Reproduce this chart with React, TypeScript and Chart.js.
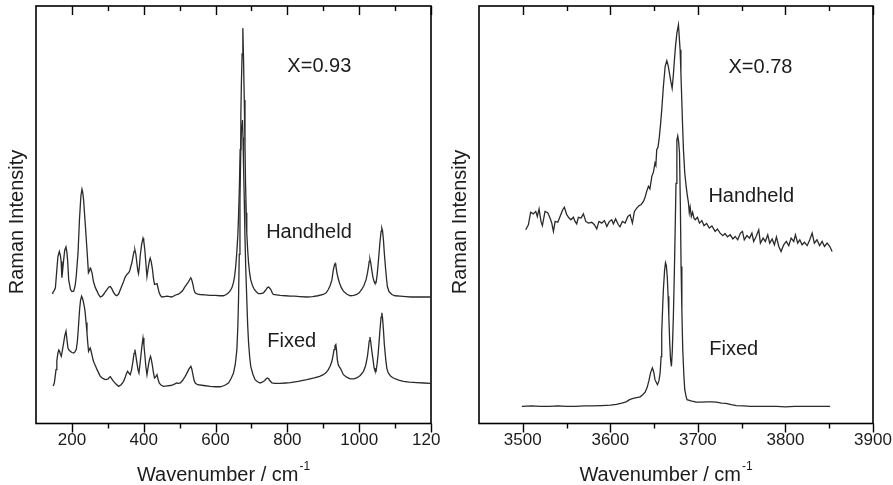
import React, { useEffect, useRef } from "react";
import { Chart, registerables } from "chart.js";

Chart.register(...registerables);

type Pair = [number, number];

// ---------- Left panel (X = 0.93), low wavenumber region ----------
const leftHandheld: Pair[] = [
  [145, 31.2], [147, 31.4], [151, 31.9], [154, 32.5], [158, 36.8], [161, 40.0], [165, 41.2], [168, 40.2],
  [170, 38.8], [172, 34.9], [174, 36.5], [177, 39.2], [180, 41.5], [183.5, 42.3], [186, 41.0], [188, 39.2],
  [191, 34.4], [196, 32.1], [200, 31.6], [205, 31.7], [209, 33.0], [212, 35.2], [217, 40.8], [221, 48.8],
  [225, 54.5], [228, 56.1], [230, 55.4], [232.5, 53.6], [237, 48.0], [242, 41.6], [246, 36.1], [249, 36.6],
  [251, 37.2], [253, 36.9], [256, 36.1], [260, 34.0], [265, 32.6], [270, 31.7], [275, 30.8], [279, 30.3],
  [284, 30.5], [288, 30.9], [293, 31.5], [298, 32.1], [303, 32.7], [307, 32.8], [311, 32.3], [316, 31.4],
  [321, 30.8], [325, 30.6], [330, 31.0], [335, 32.1], [340, 33.2], [344, 34.0], [348, 35.0], [351, 35.4],
  [355, 35.9], [358, 36.1], [361, 36.6], [364, 37.6], [367, 38.5], [370, 39.9], [373, 41.2], [375.5, 41.6],
  [378, 40.6], [381, 38.4], [383.5, 36.6], [385.5, 35.9], [388, 37.6], [390, 40.0], [394, 42.8], [398, 44.4],
  [400, 43.8], [403, 41.6], [406, 38.4], [409, 35.2], [411, 36.4], [413, 37.6], [416, 39.0], [418, 39.6],
  [421, 38.7], [424.5, 36.8], [427, 34.8], [430, 33.3], [433, 33.4], [437, 33.5], [440, 32.4], [443, 31.3],
  [447, 30.6], [451, 30.3], [458, 30.4], [465, 30.5], [472, 30.4], [478, 30.3], [485, 30.6], [492, 30.9],
  [497, 31.0], [502, 31.3], [508, 31.8], [515, 32.8], [520, 33.4], [525, 34.0], [528, 34.5], [531, 34.9],
  [534, 34.3], [537, 33.3], [540, 32.0], [543, 31.3], [550, 31.0], [557, 30.9], [570, 30.8], [585, 30.7],
  [600, 30.7], [612, 30.6], [622, 30.6], [630, 30.9], [636, 31.3], [641, 31.8], [645.5, 32.5], [650, 33.8],
  [653, 35.2], [656, 37.5], [659, 40.8], [662, 45.0], [664, 49.6], [666.5, 57.0], [668.5, 65.6], [670.5, 74.0],
  [672, 81.5], [674, 88.5], [676, 94.7], [678, 87.0], [680, 77.5], [682, 66.5], [683.5, 57.6], [685.5, 50.5],
  [687, 45.6], [689.5, 41.5], [692, 38.4], [695, 36.0], [698, 34.4], [703, 33.0], [708, 32.1], [714, 31.5],
  [719.5, 31.1], [726, 31.1], [733.5, 31.3], [738, 31.8], [741, 32.1], [744, 32.5], [747, 32.7], [750, 32.5],
  [754, 32.1], [758, 31.3], [761, 30.9], [770, 30.8], [780, 30.7], [795, 30.6], [808, 30.5], [820, 30.5],
  [835, 30.4], [854, 30.3], [870, 30.4], [885, 30.6], [900, 30.9], [908, 31.3], [914, 32.1], [919, 33.0],
  [924, 34.4], [928, 36.8], [931, 37.9], [933, 38.3], [935, 37.8], [938, 36.1], [941, 34.9], [945, 33.7],
  [950, 32.6], [956, 31.7], [965, 31.0], [975, 30.6], [985, 30.7], [993, 30.9], [1000, 31.3], [1007, 32.1],
  [1013, 33.0], [1019, 34.4], [1023, 36.0], [1026, 37.6], [1028, 38.8], [1030, 39.4], [1032, 38.6], [1035, 36.8],
  [1038, 35.2], [1041.5, 34.0], [1044, 33.6], [1047, 33.7], [1050, 35.6], [1053, 38.4], [1056, 41.5], [1058, 43.6],
  [1061, 46.0], [1063, 46.8], [1065, 46.2], [1067.5, 44.0], [1070, 40.8], [1073, 37.6], [1076, 34.8], [1078.5, 32.8],
  [1083, 31.6], [1091, 30.9], [1100, 30.6], [1114, 30.5], [1130, 30.4], [1145, 30.3], [1160, 30.3], [1180, 30.3],
  [1198, 30.3],
];

const leftFixed: Pair[] = [
  [148, 9.0], [151, 9.7], [153, 11.0], [155.7, 12.9], [158, 15.0], [161, 16.9], [163.5, 17.6], [165.7, 17.3],
  [168, 16.6], [170.4, 16.1], [173, 17.3], [177, 19.3], [180, 21.0], [183.5, 22.1], [186, 20.2], [189, 18.1],
  [192, 17.6], [195.5, 17.3], [200, 17.0], [204.6, 16.9], [208, 17.1], [212, 17.7], [215, 19.5], [217.7, 22.5],
  [221.4, 27.3], [224, 29.5], [227, 30.5], [229.5, 30.0], [232.5, 28.9], [235, 27.8], [237, 26.5], [239.5, 24.2],
  [242, 21.7], [244, 19.4], [246.4, 17.3], [249, 17.8], [251, 18.1], [253.5, 17.3], [256.7, 16.1], [259, 15.2],
  [262, 14.5], [266, 13.7], [270, 12.9], [275, 12.0], [279, 11.3], [286, 10.8], [293, 10.5], [300, 10.6],
  [304, 11.0], [307, 11.2], [311, 10.7], [316, 10.1], [322, 9.5], [330, 8.9], [337, 9.3], [344, 10.1],
  [349, 11.2], [352, 12.0], [355, 12.5], [358.5, 12.1], [362.5, 11.7], [366, 12.8], [370, 14.9], [373, 16.8],
  [375.5, 17.7], [378, 16.3], [381, 14.5], [384, 12.9], [386.7, 12.1], [389, 13.8], [392, 16.1], [395, 18.6],
  [398, 20.5], [400.5, 18.8], [403.4, 16.1], [406, 13.6], [409, 11.7], [411, 12.8], [413.4, 14.1], [416, 15.3],
  [419, 16.1], [421.5, 15.2], [424.5, 13.7], [427, 12.2], [430, 10.9], [433, 11.1], [437, 11.7], [440, 10.6],
  [443, 9.7], [448, 9.2], [455, 8.9], [465, 9.0], [474, 9.1], [483, 9.3], [492, 9.7], [497, 9.6],
  [502, 9.7], [508, 10.3], [515.5, 11.3], [520, 12.0], [525, 12.9], [528, 13.3], [531.4, 13.7], [534, 13.0],
  [537, 11.7], [540, 10.4], [543.4, 9.7], [550, 9.3], [566.5, 9.1], [585, 8.9], [600, 8.8], [613, 8.8],
  [625, 9.1], [636, 9.7], [643, 10.7], [650, 12.1], [655, 14.2], [659.4, 17.7], [662, 23.0], [664, 29.7],
  [666, 40.5], [668, 53.6], [670.6, 67.2], [672.5, 71.0], [675, 72.7], [676.5, 68.5], [678, 61.6], [680, 53.5],
  [681.7, 45.6], [684, 37.5], [687, 29.7], [689.5, 23.5], [692, 19.3], [695, 16.0], [698, 13.7], [704, 11.8],
  [710, 10.5], [717, 10.0], [724, 9.7], [730, 9.9], [737, 10.3], [741, 10.7], [744.6, 10.9], [748, 10.7],
  [751, 10.3], [757, 9.7], [765, 9.6], [780, 9.6], [795, 9.7], [808, 9.8], [830, 10.1], [854, 10.5],
  [875, 10.9], [890, 11.3], [900, 11.7], [908, 12.2], [914, 12.9], [919, 13.7], [924, 14.9], [927, 16.2],
  [930, 17.7], [932.5, 18.6], [935, 18.9], [937, 17.5], [939, 15.3], [942, 14.0], [945, 13.5], [947, 13.3],
  [950, 12.8], [956, 11.7], [965, 11.1], [975, 10.7], [985, 10.7], [993, 10.9], [1003, 11.5], [1012, 12.5],
  [1018, 13.9], [1023, 16.1], [1026, 18.2], [1028, 19.8], [1030, 20.7], [1032, 19.7], [1034, 18.2], [1036, 16.9],
  [1039, 15.0], [1041.5, 13.3], [1044, 12.6], [1047, 12.5], [1050, 14.4], [1053, 16.9], [1055.5, 19.6], [1058, 22.5],
  [1061, 25.5], [1063, 26.5], [1065, 25.3], [1067.5, 22.5], [1070, 19.0], [1074, 15.3], [1077, 13.2], [1081, 12.1],
  [1088, 11.3], [1095, 10.9], [1110, 10.4], [1123, 10.1], [1140, 9.9], [1160, 9.8], [1180, 9.7], [1198, 9.6],
];

// ---------- Right panel (X = 0.78), OH stretching region ----------
const rightHandheld: Pair[] = [
  [3503.4, 46.4], [3506.4, 47.6], [3509, 50.6], [3512, 50.2], [3514.8, 50.8], [3516.6, 49.6], [3518.6, 51.4],
  [3520.8, 48.4], [3522.4, 47.4], [3525.4, 50.8], [3528.5, 50.5], [3531, 49.3], [3533, 48.1], [3535, 46.0],
  [3537, 48.4], [3540, 48.2], [3542.6, 49.6], [3545.6, 51.2], [3547.5, 51.8], [3550.2, 50.0], [3552.9, 49.2],
  [3555, 48.8], [3557.8, 49.4], [3559.7, 48.4], [3561.6, 47.8], [3563.5, 49.4], [3566.6, 49.2], [3569.2, 50.2],
  [3572, 48.4], [3575, 48.0], [3578.8, 48.2], [3581.8, 47.6], [3584.5, 46.6], [3587, 48.4], [3590.2, 48.0],
  [3593.2, 48.6], [3596, 47.2], [3598.6, 48.3], [3601.6, 48.8], [3603.5, 47.8], [3606, 49.0], [3609.2, 47.6],
  [3611, 47.1], [3613.8, 48.4], [3616.9, 48.0], [3620, 49.6], [3622.6, 50.0], [3625.2, 48.0], [3627.5, 50.8],
  [3630.2, 51.6], [3632.9, 52.2], [3635, 52.4], [3637.8, 53.2], [3639.7, 54.2], [3641.5, 55.6], [3643.5, 56.8],
  [3645.2, 56.2], [3647.4, 59.2], [3649.2, 60.2], [3651, 62.4], [3652, 61.8], [3653, 65.6], [3654.5, 66.2],
  [3656, 68.7], [3657.5, 72.0], [3658.7, 75.1], [3660.6, 80.7], [3662.6, 85.5], [3664.5, 86.9], [3666, 85.8],
  [3667.5, 83.9], [3669, 82.0], [3670.6, 80.3], [3672, 83.5], [3673.2, 87.1], [3674.5, 90.5], [3676, 93.5],
  [3677.8, 95.5], [3679.7, 89.5], [3680.6, 84.0], [3681.6, 77.5], [3682.5, 71.5], [3683.5, 65.6], [3685, 60.0],
  [3686.6, 56.8], [3688, 54.5], [3689.2, 52.9], [3690.2, 50.5], [3691.2, 51.8], [3692.5, 49.6], [3694, 50.6],
  [3695.5, 49.2], [3697, 48.8], [3699.5, 49.4], [3701.8, 48.0], [3704.5, 48.6], [3707, 47.4], [3710, 47.9],
  [3713, 46.8], [3716, 47.3], [3719.7, 46.0], [3722.3, 46.6], [3725.4, 45.6], [3728.5, 45.0], [3731, 45.5],
  [3733.8, 44.7], [3736.9, 45.2], [3740, 44.2], [3742.6, 44.8], [3745.5, 44.0], [3748.6, 45.6], [3750.9, 46.0],
  [3753, 44.0], [3756, 45.0], [3759, 44.4], [3761.7, 45.6], [3763.7, 43.6], [3766.5, 44.8], [3769.5, 46.4],
  [3771.4, 43.2], [3774.5, 44.4], [3777, 43.6], [3779.8, 45.2], [3782, 43.2], [3784.8, 44.2], [3787.4, 42.8],
  [3789.7, 44.7], [3792.4, 42.4], [3795, 41.2], [3798, 42.8], [3801, 43.6], [3803.8, 42.6], [3806.5, 44.4],
  [3809.5, 43.6], [3811.4, 45.2], [3814, 43.2], [3816.4, 44.0], [3819, 42.8], [3821.7, 43.4], [3824.8, 42.6],
  [3827.8, 44.0], [3830.5, 45.6], [3833, 43.2], [3836, 44.0], [3839, 42.6], [3841.9, 43.6], [3844.6, 42.4],
  [3847.6, 43.2], [3850.7, 42.4], [3853.3, 41.2],
];

const rightFixed: Pair[] = [
  [3499, 4.1], [3510, 4.2], [3520, 4.1], [3530, 4.1], [3540, 4.2], [3550, 4.1], [3560, 4.1], [3570, 4.2],
  [3580, 4.2], [3590, 4.3], [3600, 4.4], [3607, 4.6], [3613, 4.9], [3618, 5.2], [3622, 5.7], [3626, 6.0],
  [3630, 6.2], [3634, 6.4], [3637, 6.9], [3639.7, 7.5], [3642, 8.6], [3644, 10.2], [3646, 12.2], [3648, 13.3],
  [3649.5, 12.4], [3651, 10.5], [3653.8, 9.3], [3655.5, 10.2], [3656.9, 12.2], [3658, 16.0], [3658.7, 21.8],
  [3659.7, 27.5], [3660.6, 32.1], [3662, 36.8], [3663, 38.5], [3664, 37.8], [3665, 35.2], [3666, 30.5],
  [3666.8, 25.7], [3667.8, 19.5], [3668.8, 15.2], [3669.8, 13.7], [3670.8, 17.5], [3672, 25.7], [3673, 35.0],
  [3674, 45.7], [3675, 57.5], [3676, 67.9], [3677, 68.9], [3678, 67.5], [3679, 64.8], [3680, 52.0],
  [3680.8, 37.6], [3681.7, 27.0], [3682.7, 17.7], [3684, 11.5], [3685, 8.1], [3686.5, 6.5], [3687.6, 5.7],
  [3692, 5.4], [3698, 5.1], [3704, 5.1], [3710, 5.2], [3716, 5.2], [3721, 5.1], [3727, 4.9], [3732, 4.8],
  [3738, 4.5], [3744, 4.3], [3752, 4.2], [3760, 4.1], [3770, 4.1], [3780, 4.1], [3790, 4.1], [3800, 4.0],
  [3810, 4.1], [3820, 4.1], [3830, 4.1], [3840, 4.1], [3851, 4.1],
];

// ---------- Axis ticks ----------
const leftMajorTicks = [200, 400, 600, 800, 1000, 1200];
const leftMinorTicks = [300, 500, 700, 900, 1100];
const rightMajorTicks = [3500, 3600, 3700, 3800, 3900];
const rightMinorTicks = [3550, 3650, 3750, 3850];

const FONT = "'Liberation Sans', Arial, Helvetica, sans-serif";
const INK = "#1c1c1c";
const LINE = "#2a2a2a";

interface Note { text: string; x: number; y: number }
interface PanelSpec {
  id: string;
  handheld: Pair[];
  fixed: Pair[];
  xMin: number;
  xMax: number;
  major: number[];
  minor: number[];
  notes: Note[];
  padding: { left: number; right: number; top: number; bottom: number };
}

const leftSpec: PanelSpec = {
  id: "left",
  handheld: leftHandheld,
  fixed: leftFixed,
  xMin: 100,
  xMax: 1200,
  major: leftMajorTicks,
  minor: leftMinorTicks,
  notes: [
    { text: "X=0.93", x: 800, y: 85.4 },
    { text: "Handheld", x: 741, y: 45.7 },
    { text: "Fixed", x: 744, y: 19.6 },
  ],
  padding: { left: 36, right: 29, top: 6, bottom: 27.1 },
};

const rightSpec: PanelSpec = {
  id: "right",
  handheld: rightHandheld,
  fixed: rightFixed,
  xMin: 3450,
  xMax: 3900,
  major: rightMajorTicks,
  minor: rightMinorTicks,
  notes: [
    { text: "X=0.78", x: 3735, y: 85.2 },
    { text: "Handheld", x: 3712, y: 54.3 },
    { text: "Fixed", x: 3713, y: 17.7 },
  ],
  padding: { left: 38, right: 28, top: 6, bottom: 27.1 },
};

function framePlugin(spec: PanelSpec) {
  return {
    id: "frame-" + spec.id,
    afterDraw(chart: any) {
      const { ctx, chartArea: a, scales } = chart;
      const x = scales.x;
      const y = scales.y;
      ctx.save();
      // box
      ctx.strokeStyle = "#000";
      ctx.lineWidth = 1.6;
      ctx.strokeRect(a.left, a.top, a.right - a.left, a.bottom - a.top);
      // ticks: outward on bottom, inward on top
      ctx.lineWidth = 1.4;
      ctx.beginPath();
      const drawTick = (v: number, len: number) => {
        const px = Math.round(x.getPixelForValue(v)) + 0.5;
        ctx.moveTo(px, a.bottom);
        ctx.lineTo(px, a.bottom + len);
        ctx.moveTo(px, a.top);
        ctx.lineTo(px, a.top + len);
      };
      spec.major.forEach((v) => drawTick(v, 9));
      spec.minor.forEach((v) => drawTick(v, 5));
      ctx.stroke();

      ctx.fillStyle = INK;
      // y title
      ctx.save();
      ctx.translate(a.left - 13, 222);
      ctx.rotate(-Math.PI / 2);
      ctx.font = `20px ${FONT}`;
      ctx.textAlign = "center";
      ctx.textBaseline = "alphabetic";
      ctx.fillText("Raman Intensity", 0, 0);
      ctx.restore();

      // x title with superscript
      const main = "Wavenumber / cm";
      const sup = "-1";
      ctx.font = `20px ${FONT}`;
      const mw = ctx.measureText(main).width;
      ctx.font = `12px ${FONT}`;
      const sw = ctx.measureText(sup).width;
      const total = mw + sw + 1;
      const cx = (a.left + a.right) / 2 - 10;
      const sx = cx - total / 2;
      ctx.textAlign = "left";
      ctx.textBaseline = "alphabetic";
      ctx.font = `20px ${FONT}`;
      ctx.fillText(main, sx, 481);
      ctx.font = `12px ${FONT}`;
      ctx.fillText(sup, sx + mw + 1, 470);

      // annotations
      ctx.font = `20px ${FONT}`;
      ctx.textBaseline = "middle";
      spec.notes.forEach((n) => {
        ctx.fillText(n.text, x.getPixelForValue(n.x), y.getPixelForValue(n.y));
      });
      ctx.restore();
    },
  };
}

function makeConfig(spec: PanelSpec): any {
  const ds = (label: string, pts: Pair[]) => ({
    label,
    data: pts.map(([px, py]) => ({ x: px, y: py })),
    borderColor: LINE,
    backgroundColor: LINE,
    borderWidth: 1.3,
    pointRadius: 0,
    tension: 0,
    fill: false,
  });
  return {
    type: "line",
    data: { datasets: [ds("Handheld", spec.handheld), ds("Fixed", spec.fixed)] },
    options: {
      responsive: false,
      animation: false,
      devicePixelRatio: 1,
      layout: { padding: spec.padding },
      plugins: { legend: { display: false }, tooltip: { enabled: false }, title: { display: false } },
      scales: {
        x: {
          type: "linear",
          min: spec.xMin,
          max: spec.xMax,
          afterBuildTicks: (axis: any) => {
            axis.ticks = spec.major.map((v) => ({ value: v }));
          },
          ticks: {
            autoSkip: false,
            maxRotation: 0,
            padding: 7,
            color: INK,
            font: { family: FONT, size: 17 },
            callback: (v: any) => String(v),
          },
          grid: { display: false, drawTicks: false },
          border: { display: false },
        },
        y: { type: "linear", min: 0, max: 100, display: false },
      },
    },
    plugins: [framePlugin(spec)],
  };
}

function Panel({ spec, left, width, canvasWidth }: { spec: PanelSpec; left: number; width: number; canvasWidth: number }) {
  const ref = useRef<HTMLCanvasElement | null>(null);
  useEffect(() => {
    if (!ref.current) return;
    const chart = new Chart(ref.current, makeConfig(spec));
    return () => chart.destroy();
  }, [spec]);
  return (
    <div style={{ position: "absolute", left, top: 0, width, height: 485, overflow: "hidden" }}>
      <canvas ref={ref} width={canvasWidth} height={485} style={{ display: "block" }} />
    </div>
  );
}

export default function App() {
  return (
    <div style={{ position: "fixed", left: 0, top: 0, width: 893, height: 485, background: "#fff", overflow: "hidden" }}>
      <Panel spec={leftSpec} left={0} width={441} canvasWidth={460} />
      <Panel spec={rightSpec} left={441} width={452} canvasWidth={460} />
    </div>
  );
}
